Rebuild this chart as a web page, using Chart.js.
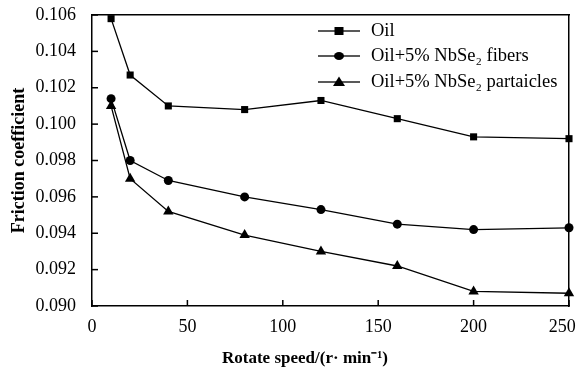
<!DOCTYPE html>
<html><head><meta charset="utf-8">
<script src="https://cdn.jsdelivr.net/npm/chart.js@4/dist/chart.umd.min.js"></script>
<style>html,body{margin:0;padding:0;background:#fff}#w{width:576px;height:371px}</style>
</head><body><div id="w"><canvas id="c" width="576" height="371"></canvas></div>
<script>
const speeds = [10, 20, 40, 80, 120, 160, 200, 250];
const oil = [0.1058, 0.1027, 0.1010, 0.1008, 0.1013, 0.1003, 0.0993, 0.0992];
const fibers = [0.1014, 0.0980, 0.0969, 0.0960, 0.0953, 0.0945, 0.0942, 0.0943];
const particles = [0.1010, 0.0970, 0.0952, 0.0939, 0.0930, 0.0922, 0.0908, 0.0907];
const seriesNames = ["Oil", "Oil+5% NbSe\u2082 fibers", "Oil+5% NbSe\u2082 partaicles"];
const yTicks = [0.090, 0.092, 0.094, 0.096, 0.098, 0.100, 0.102, 0.104, 0.106];
const xTicks = [0, 50, 100, 150, 200, 250];
const xTitle = 'Rotate speed/(r\u00b7 min\u207b\u00b9)';
const yTitle = 'Friction coefficient';

const FONT = '"Liberation Serif", "Times New Roman", serif';

function pts(arr){ return speeds.map((s,i)=>({x:s,y:arr[i]})); }

const frame = {
  id:'boxframe',
  afterDraw(chart){
    const ctx = chart.ctx, a = chart.chartArea, sx = chart.scales.x, sy = chart.scales.y;
    ctx.save();
    ctx.fillStyle='#000';
    for(const v of xTicks){const px=sx.getPixelForValue(v);ctx.fillRect(px-0.75,a.bottom-6,1.5,6);}
    for(const v of yTicks){const py=sy.getPixelForValue(v);ctx.fillRect(a.left,py-0.75,6,1.5);}
    // axis titles
    ctx.font='bold 17px '+FONT; ctx.textAlign='center'; ctx.textBaseline='middle';
    ctx.fillText(xTitle, 305, 359);
    ctx.save(); ctx.translate(19,(a.top+a.bottom)/2); ctx.rotate(-Math.PI/2);
    ctx.font='bold 18px '+FONT; ctx.fillText(yTitle,0,0); ctx.restore();
    // legend
    const rows=[31,56,82];
    chart.data.datasets.forEach((ds,i)=>{
      const y=rows[i];
      ctx.fillStyle='#000';
      ctx.fillRect(318,y-0.65,42,1.3);
      const cx=339;
      if(ds.pointStyle==='rect'){ctx.fillRect(cx-4.5,y-4,9,8);}
      else if(ds.pointStyle==='circle'){ctx.beginPath();ctx.ellipse(cx,y,5,4,0,0,Math.PI*2);ctx.fill();}
      else {ctx.beginPath();ctx.moveTo(cx,y-5.5);ctx.lineTo(cx+6,y+4);ctx.lineTo(cx-6,y+4);ctx.closePath();ctx.fill();}
      ctx.font='18.5px '+FONT; ctx.textBaseline='middle'; ctx.textAlign='left';
      ctx.fillText(ds.label, 371, y);
    });
    ctx.restore();
  }
};

const borderOpt = {display:true,color:'#000',width:1.5};
const hiddenGrid = {display:false,drawTicks:false,tickLength:0};

new Chart(document.getElementById('c'), {
  type:'line',
  data:{datasets:[
    {label:seriesNames[0], data:pts(oil), pointStyle:'rect', pointRadius:5},
    {label:seriesNames[1], data:pts(fibers), pointStyle:'circle', pointRadius:4.5},
    {label:seriesNames[2], data:pts(particles), pointStyle:'triangle', pointRadius:6}
  ].map(d=>Object.assign(d,{borderColor:'#000',backgroundColor:'#000',borderWidth:1.3,pointBorderWidth:0,pointBackgroundColor:'#000',tension:0,clip:false}))},
  options:{
    responsive:false, animation:false, devicePixelRatio:1,
    layout:{padding:{left:0,right:7,top:15,bottom:0}},
    plugins:{legend:{display:false},tooltip:{enabled:false}},
    scales:{
      x:{type:'linear',min:0,max:250,
        afterBuildTicks(s){s.ticks=xTicks.map(v=>({value:v}));},
        afterFit(s){s.height=65;s.paddingLeft=0;s.paddingRight=0;},
        grid:{display:false,drawTicks:true,tickLength:8},border:borderOpt,
        ticks:{color:'#000',font:{family:FONT,size:18},padding:2,maxRotation:0,
          callback:v=>v===250?'250   ':String(v)},
        title:{display:false}
      },
      x2:{type:'linear',position:'top',min:0,max:250,
        afterFit(s){s.height=0;s.paddingLeft=0;s.paddingRight=0;},
        grid:hiddenGrid,border:borderOpt,ticks:{display:false},title:{display:false}
      },
      y:{type:'linear',min:0.090,max:0.106,
        afterBuildTicks(s){s.ticks=yTicks.map(v=>({value:v}));},
        afterFit(s){s.width=92;s.paddingTop=0;s.paddingBottom=0;},
        grid:{display:false,drawTicks:true,tickLength:8},border:borderOpt,
        ticks:{color:'#000',font:{family:FONT,size:18},padding:8,callback:v=>v.toFixed(3)},
        title:{display:false}
      },
      y2:{type:'linear',position:'right',min:0.090,max:0.106,
        afterFit(s){s.width=0;s.paddingTop=0;s.paddingBottom=0;},
        grid:hiddenGrid,border:borderOpt,ticks:{display:false},title:{display:false}
      }
    }
  },
  plugins:[frame]
});
</script></body></html>
